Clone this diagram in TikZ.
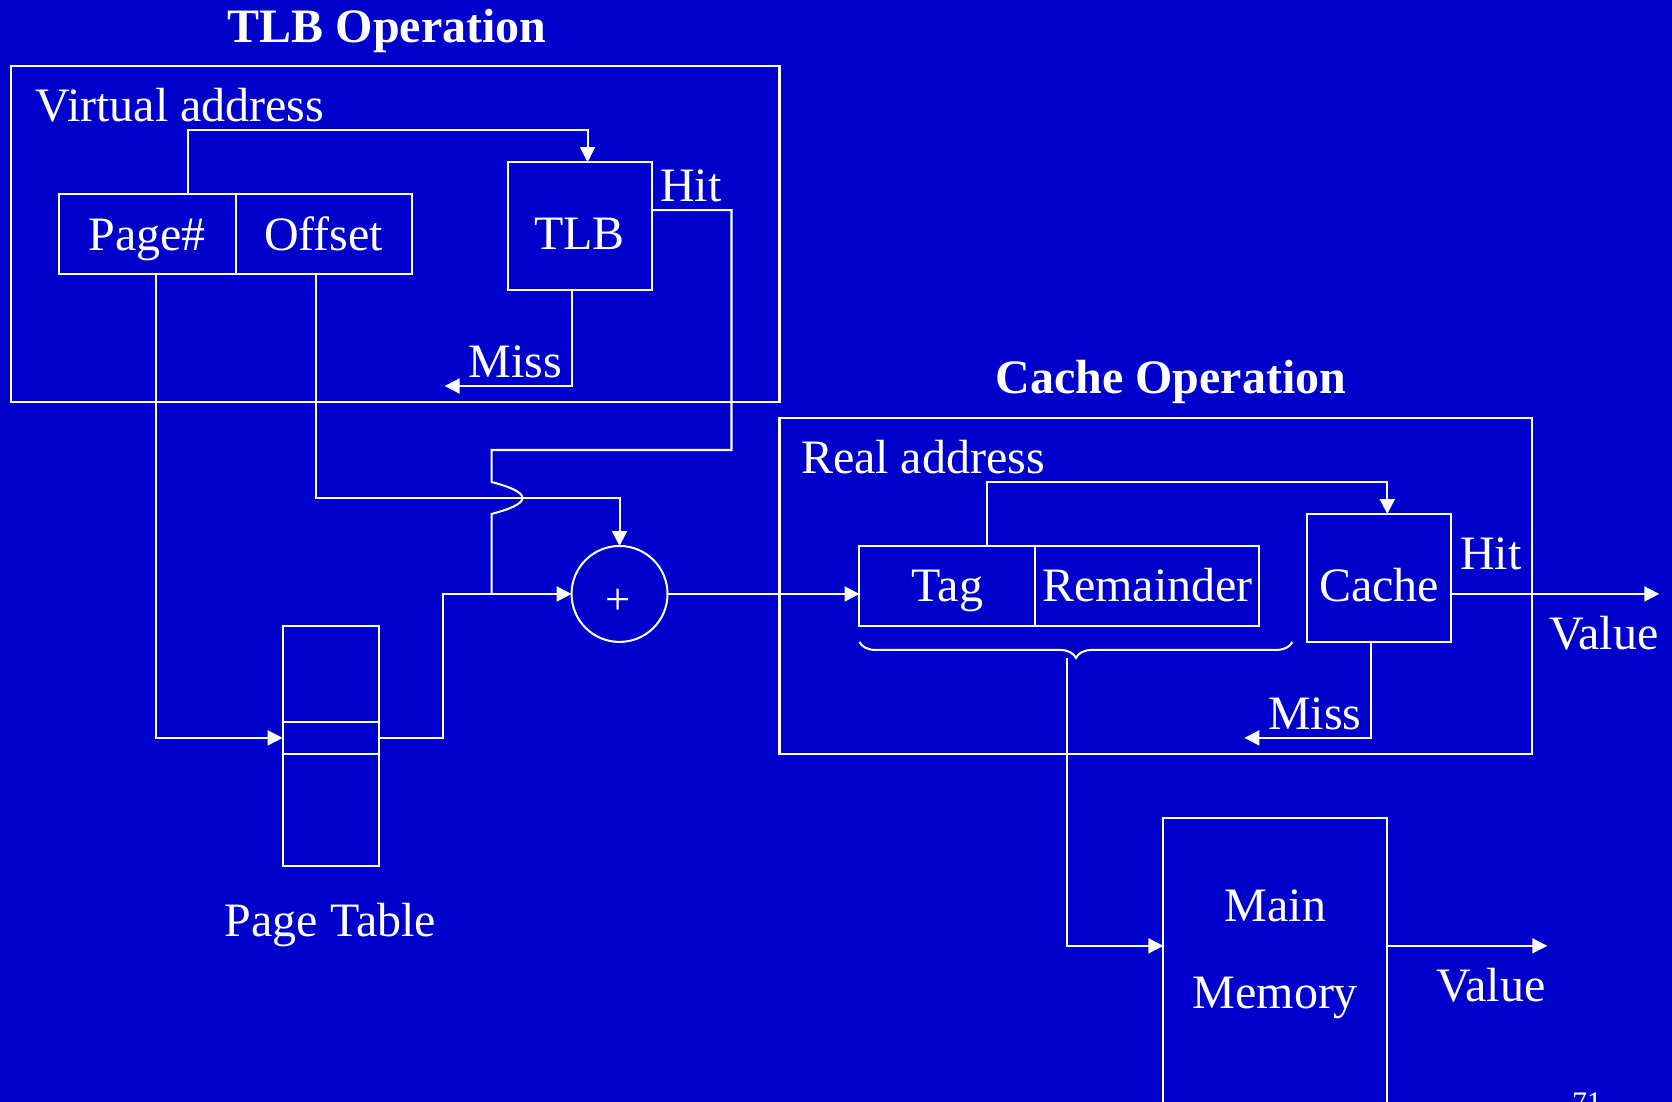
\documentclass[tikz,border=0pt]{standalone}
\usepackage{fontspec}
\setmainfont{Liberation Serif}
\usetikzlibrary{arrows.meta, positioning, calc, decorations.pathreplacing}
\definecolor{slideblue}{RGB}{0, 0, 204}

\begin{document}
\begin{tikzpicture}[
            x=1pt, y=-1pt,
            cellbox/.style={draw=white, line width=1.9pt, outer sep=0pt, inner sep=0pt, text=white, text height=34pt, text depth=4pt, font=\fontsize{45}{54}\selectfont},
            tallbox/.style={cellbox, text height=48pt},
            emptybox/.style={cellbox, text height=, text depth=},
            plaintext/.style={text=white, inner sep=0pt, anchor=base, font=\fontsize{45}{54}\selectfont},
            headtext/.style={text=white, inner sep=0pt, anchor=base, font=\fontsize{45}{54}\selectfont\bfseries},
            wire/.style={draw=white, line width=1.9pt},
            arrow/.style={wire, -{Triangle[length=14pt, width=14pt]}}
        ]
            \path[use as bounding box, fill=slideblue] (0,0) rectangle (1568,1033);
            \clip (0,0) rectangle (1568,1033);
            
            % TLB operation
            \node[headtext] (tlbtitle) at (363,40) {TLB Operation};
            \node[emptybox, minimum width=721pt, minimum height=315pt] (tlbframe) at (370.5,219.5) {};
            \node[plaintext, anchor=base west] (vaddr) at (33,114) {Virtual address};
            \node[cellbox, minimum width=166pt, minimum height=75pt] (pagenum) at (138,219.5) {Page\#};
            \node[cellbox, minimum width=165pt, minimum height=75pt, right=0pt of pagenum] (offset) {Offset};
            \node[tallbox, minimum width=135pt, minimum height=120pt] (tlb) at (543.5,212) {TLB};
            \node[plaintext] (tlbhit) at (648,189) {Hit};
            \node[plaintext] (tlbmisstext) at (483,354) {Miss};
            \coordinate (tlbmiss) at (417,362);
            
            \node[emptybox, minimum width=90pt, minimum height=225pt] (pagetable) at (310,699.5) {};
            \node[emptybox, minimum width=90pt, minimum height=30pt] (ptentry) at (310,692) {};
            \node[plaintext] (pttext) at (310,878) {Page Table};
            
            \node[emptybox, circle, minimum size=90pt] (adder) at (581,557) {};
            \node[text=white, inner sep=0pt, font=\fontsize{42}{50}\selectfont] (plus) at (580,564.5) {+};
            \coordinate (hitjoin) at (461,557);
            
            \draw[arrow] ([xshift=38pt]pagenum.north) -- ++(0,-60) -| ([xshift=7.5pt]tlb.north);
            \draw[arrow] ([xshift=8pt]pagenum.south) |- (ptentry.west);
            \draw[arrow] ([xshift=-7.5pt]offset.south) |- ($(adder.north)+(0,-45)$) -- (adder.north);
            \draw[arrow] ([xshift=-7.5pt]tlb.south) |- (tlbmiss);
            \draw[wire] ([yshift=15pt]tlb.east) -| (686,422) -| (461,452)
                .. controls (476,456) and (490,461) .. (490,467)
                .. controls (490,473) and (476,478) .. (461,482) -- (hitjoin);
            \draw[arrow] (ptentry.east) -- ++(60,0) |- (adder.west);
            
            % Cache operation
            \node[headtext] (cachetitle) at (1098,369) {Cache Operation};
            \node[emptybox, minimum width=706pt, minimum height=315pt] (cacheframe) at (1084,549.5) {};
            \node[plaintext, anchor=base west] (raddr) at (751,444) {Real address};
            \node[cellbox, minimum width=165pt, minimum height=75pt] (tag) at (888.5,549.5) {Tag};
            \node[cellbox, minimum width=210pt, minimum height=75pt, right=0pt of tag] (remainder) {Remainder};
            \node[tallbox, minimum width=135pt, minimum height=120pt] (cache) at (1293.5,542) {Cache};
            \node[plaintext] (cachehit) at (1398,534) {Hit};
            \node[plaintext] (cachevaluetext) at (1504,609) {Value};
            \node[plaintext] (cachemisstext) at (1233,684) {Miss};
            \coordinate (cachevalue) at (1556,557);
            \coordinate (cachemiss) at (1167,692);
            \coordinate (bracetip) at (1001,617);
            
            \node[emptybox, minimum width=210pt, minimum height=340pt] (mainmem) at (1196,937) {};
            \node[text=white, inner sep=0pt, align=center, font=\fontsize{45}{81}\selectfont] (memtext) at (1196,895) {Main\\Memory};
            \node[plaintext] (memvaluetext) at (1398,939) {Value};
            \coordinate (memvalue) at (1451,887);
            
            \draw[arrow] (adder.east) -- (adder.east -| tag.west);
            \draw[arrow] ([xshift=37.5pt]tag.north) -- ++(0,-60) -| ([xshift=7.5pt]cache.north);
            \draw[arrow] ([yshift=-15pt]cache.east) -- (cachevalue);
            \draw[arrow] ([xshift=-7.5pt]cache.south) |- (cachemiss);
            \draw[wire, decorate, decoration={brace, amplitude=15pt}] (1212,602) -- (806,602);
            \draw[arrow] (bracetip) |- ([yshift=50pt]mainmem.west);
            \draw[arrow] ([yshift=50pt]mainmem.east) -- (memvalue);
            
            \node[text=white, inner sep=0pt, font=\fontsize{28}{34}\selectfont, anchor=north west] (pageno) at (1474,1025) {71};
        \end{tikzpicture}
\end{document}
